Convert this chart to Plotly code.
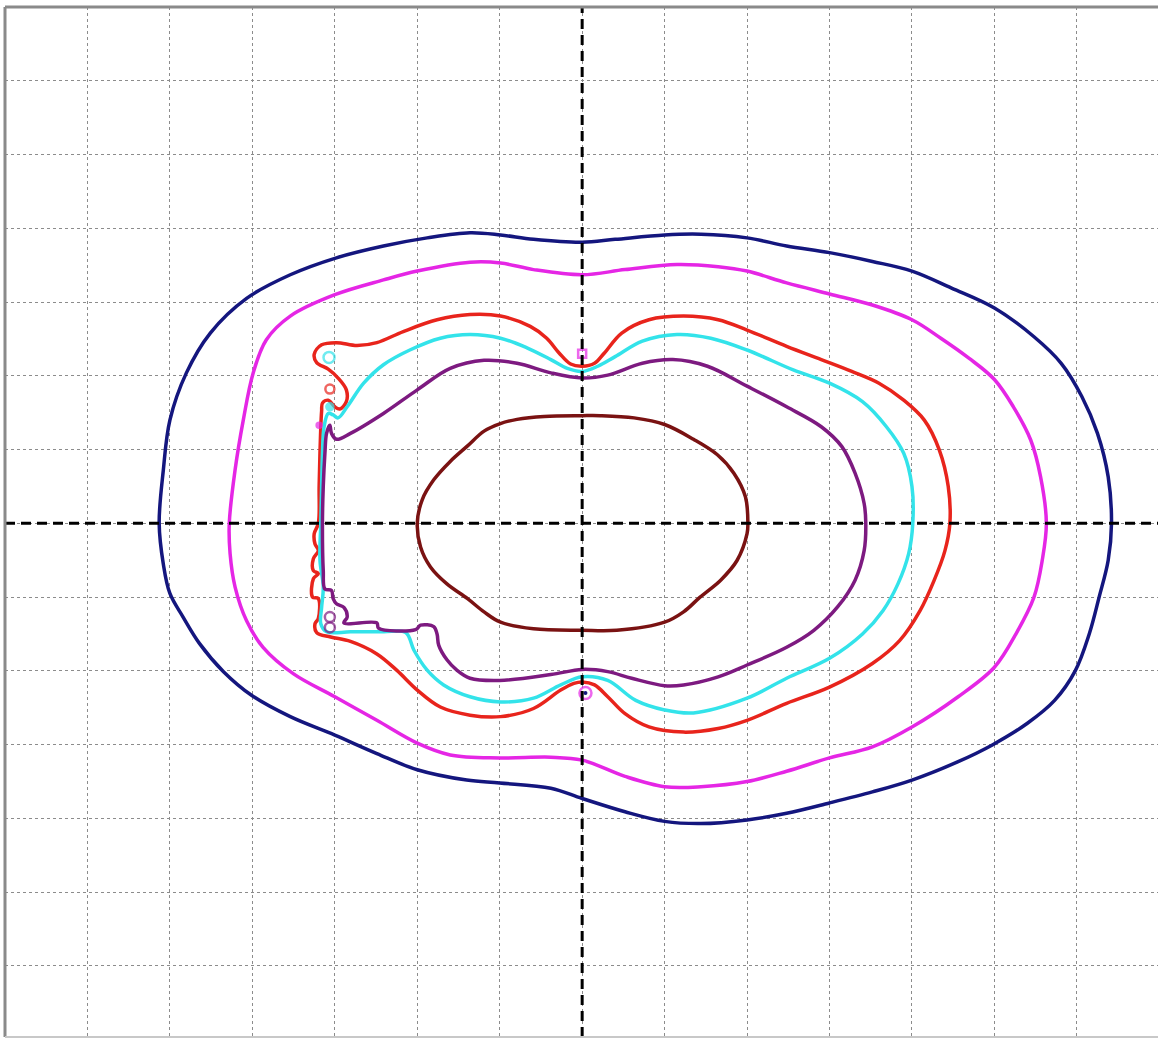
import plotly.graph_objects as go

# ---- contour data (grid units, centre = 0,0) ----
navy_x = [0, 0.40, 1.0, 1.44, 2.0, 2.48, 3.0, 3.52, 4.0, 4.48, 5.0, 5.48, 5.81, 6.06, 6.25, 6.38, 6.42,
          6.38, 6.27, 6.15, 5.98, 5.73, 5.40, 4.98, 4.56, 4.0, 3.52, 3.0, 2.48, 2.0, 1.44, 1.0, 0.52, 0,
          -0.38, -1.0, -1.40, -2.0, -2.49, -3.0, -3.54, -4.01, -4.35, -4.64, -4.84, -5.0, -5.08, -5.13,
          -5.08, -5.0, -4.80, -4.51, -4.07, -3.54, -2.98, -2.41, -1.88, -1.36, -0.99, -0.59, 0]
navy_y = [3.81, 3.85, 3.91, 3.92, 3.87, 3.76, 3.67, 3.55, 3.42, 3.19, 2.92, 2.53, 2.17, 1.72, 1.22, 0.63, 0,
          -0.50, -1.0, -1.50, -2.0, -2.40, -2.71, -3.0, -3.23, -3.48, -3.64, -3.79, -3.93, -4.02, -4.07, -4.04, -3.91, -3.73,
          -3.59, -3.52, -3.48, -3.34, -3.12, -2.87, -2.62, -2.33, -2.01, -1.63, -1.27, -0.95, -0.55, 0,
          0.72, 1.40, 2.04, 2.58, 3.05, 3.37, 3.60, 3.76, 3.87, 3.94, 3.91, 3.85, 3.81]

magenta_x = [0, 0.52, 1.15, 1.65, 2.0, 2.48, 3.0, 3.52, 4.0, 4.35, 4.69, 5.0, 5.23, 5.44, 5.56, 5.63,
             5.58, 5.48, 5.27, 5.0, 4.56, 4.0, 3.52, 3.0, 2.48, 2.0, 1.44, 1.0, 0.52, 0,
             -0.38, -1.0, -1.60, -2.0, -2.49, -3.0, -3.50, -3.87, -4.07, -4.21, -4.27, -4.28,
             -4.21, -4.11, -3.99, -3.83, -3.54, -3.0, -2.41, -2.0, -1.36, -0.99, -0.59, 0]
magenta_y = [3.37, 3.44, 3.51, 3.48, 3.42, 3.26, 3.11, 2.96, 2.76, 2.51, 2.24, 1.95, 1.58, 1.13, 0.63, 0,
             -0.50, -1.0, -1.48, -1.95, -2.35, -2.76, -3.03, -3.18, -3.36, -3.50, -3.57, -3.57, -3.43, -3.21,
             -3.17, -3.18, -3.14, -2.98, -2.67, -2.35, -2.04, -1.68, -1.32, -0.86, -0.41, 0,
             0.72, 1.40, 2.04, 2.49, 2.81, 3.10, 3.30, 3.42, 3.54, 3.53, 3.44, 3.37]

red_x = [0, -0.14, -0.28, -0.43, -0.63, -0.99, -1.36, -1.76, -2.17, -2.49, -2.73, -2.98, -3.16, -3.25,
         -3.22, -3.08, -2.96, -2.86, -2.86, -2.94, -3.00, -3.08, -3.15, -3.16, -3.17, -3.18, -3.19, -3.20,
         -3.25, -3.24, -3.20, -3.26, -3.26, -3.20, -3.26, -3.27, -3.20, -3.20, -3.24, -3.22, -3.05,
         -2.81, -2.49, -2.25, -2.0, -1.72, -1.36, -0.99, -0.59, -0.26, -0.10, 0,
         0.15, 0.31, 0.52, 0.81, 1.23, 1.65, 2.0, 2.48, 3.0, 3.52, 3.85, 4.10, 4.27, 4.40, 4.46,
         4.44, 4.33, 4.15, 3.90, 3.60, 3.27, 2.90, 2.48, 2.0, 1.65, 1.23, 0.81, 0.48, 0.27, 0.15, 0]
red_y = [2.13, 2.16, 2.31, 2.51, 2.67, 2.81, 2.83, 2.76, 2.60, 2.45, 2.41, 2.45, 2.42, 2.29,
         2.18, 2.09, 1.97, 1.81, 1.65, 1.55, 1.58, 1.67, 1.63, 1.52, 1.31, 0.95, 0.50, 0,
         -0.14, -0.28, -0.37, -0.48, -0.64, -0.68, -0.75, -1.00, -1.02, -1.29, -1.36, -1.48, -1.54,
         -1.60, -1.77, -1.99, -2.26, -2.49, -2.60, -2.62, -2.51, -2.26, -2.17, -2.15,
         -2.19, -2.35, -2.58, -2.76, -2.83, -2.78, -2.67, -2.44, -2.22, -1.90, -1.59, -1.18, -0.77, -0.37, 0,
         0.50, 1.0, 1.40, 1.67, 1.90, 2.06, 2.22, 2.40, 2.62, 2.76, 2.81, 2.76, 2.58, 2.31, 2.17, 2.13]

cyan_x = [0, -0.18, -0.38, -0.67, -0.99, -1.36, -1.72, -2.09, -2.41, -2.65, -2.85, -2.96, -3.02, -3.08,
          -3.13, -3.15, -3.16, -3.17, -3.18, -3.14, -3.16, -3.17, -3.10, -2.81, -2.41, -2.14, -2.04,
          -1.88, -1.68, -1.36, -0.99, -0.59, -0.26, 0,
          0.31, 0.65, 1.0, 1.35, 2.0, 2.48, 3.0, 3.40, 3.65, 3.83, 3.96, 4.01,
          4.0, 3.90, 3.69, 3.40, 3.0, 2.56, 2.0, 1.56, 1.15, 0.73, 0.40, 0.19, 0]
cyan_y = [2.06, 2.10, 2.22, 2.38, 2.51, 2.56, 2.51, 2.35, 2.15, 1.90, 1.58, 1.43, 1.47, 1.49,
          1.31, 0.95, 0.50, 0, -0.50, -0.86, -1.14, -1.36, -1.47, -1.47, -1.47, -1.48, -1.72,
          -1.99, -2.19, -2.35, -2.42, -2.37, -2.19, -2.08,
          -2.13, -2.40, -2.53, -2.57, -2.37, -2.10, -1.83, -1.50, -1.18, -0.82, -0.41, 0,
          0.50, 0.95, 1.31, 1.65, 1.90, 2.08, 2.35, 2.51, 2.56, 2.47, 2.26, 2.13, 2.06]

purple_x = [0, 0.31, 0.73, 1.10, 1.52, 2.0, 2.48, 2.90, 3.15, 3.31, 3.42, 3.44,
            3.42, 3.31, 3.10, 2.81, 2.48, 2.0, 1.65, 1.23, 1.0, 0.60, 0.31, 0,
            -0.38, -1.0, -1.36, -1.52, -1.64, -1.74, -1.76, -1.80, -1.96, -2.02, -2.47, -2.49, -2.89,
            -2.85, -2.89, -2.98, -3.02, -3.04, -3.12, -3.14, -3.15,
            -3.14, -3.12, -3.10, -3.06, -3.04, -2.98, -2.81, -2.41, -2.0, -1.60, -1.19, -0.79, -0.38, 0]
purple_y = [1.97, 2.01, 2.17, 2.22, 2.13, 1.86, 1.58, 1.31, 1.04, 0.68, 0.27, 0,
            -0.37, -0.77, -1.13, -1.45, -1.68, -1.92, -2.08, -2.19, -2.20, -2.10, -2.01, -1.98,
            -2.05, -2.13, -2.10, -1.99, -1.85, -1.65, -1.50, -1.40, -1.38, -1.44, -1.42, -1.35, -1.35,
            -1.27, -1.14, -1.09, -1.02, -0.91, -0.89, -0.64, 0,
            0.50, 0.95, 1.22, 1.33, 1.22, 1.14, 1.22, 1.49, 1.81, 2.10, 2.21, 2.17, 2.04, 1.97]

brown_x = [0, 0.22, 0.63, 1.0, 1.35, 1.64, 1.84, 1.98, 2.01, 2.0, 1.88, 1.68, 1.43, 1.23, 1.0, 0.42, 0,
           -0.59, -0.99, -1.19, -1.39, -1.64, -1.84, -1.96, -2.0, -1.94, -1.80, -1.60, -1.39, -1.19,
           -1.0, -0.79, -0.46, 0]
brown_y = [1.46, 1.46, 1.43, 1.34, 1.14, 0.93, 0.68, 0.36, 0, -0.14, -0.50, -0.77, -1.0, -1.20, -1.34, -1.45, -1.45,
           -1.43, -1.34, -1.20, -1.02, -0.82, -0.59, -0.32, 0, 0.32, 0.59, 0.84, 1.05, 1.25,
           1.35, 1.41, 1.45, 1.46]

# small isolated islands of the contours
blob_x = [-3.07, -3.06, -3.06, -3.06, -3.06, 0.0, 0.04, -3.19]
blob_y = [2.25, 1.82, 1.58, -1.27, -1.41, 2.30, -2.30, 1.33]
blob_color = ["#33e3ea", "#e8241c", "#33e3ea", "#7d1a80", "#7d1a80", "#e526e5", "#e526e5", "#e526e5"]
blob_symbol = ["circle-open", "circle-open", "circle", "circle-open", "circle-open",
               "square-open", "circle-open", "circle"]
blob_size = [11, 9, 7, 10, 10, 8, 12, 5]

curves = [
    ("navy", navy_x, navy_y, "#14167e"),
    ("magenta", magenta_x, magenta_y, "#e526e5"),
    ("red", red_x, red_y, "#e8241c"),
    ("cyan", cyan_x, cyan_y, "#33e3ea"),
    ("purple", purple_x, purple_y, "#7d1a80"),
    ("brown", brown_x, brown_y, "#7a1212"),
]

fig = go.Figure()
for name, xs, ys, col in curves:
    fig.add_trace(go.Scatter(x=xs, y=ys, mode="lines", name=name,
                             line=dict(color=col, width=3.5, shape="spline", smoothing=1.0),
                             hoverinfo="skip"))

fig.add_trace(go.Scatter(x=blob_x, y=blob_y, mode="markers",
                         marker=dict(color=blob_color, symbol=blob_symbol, size=blob_size,
                                     line=dict(color=blob_color, width=2.5)),
                         hoverinfo="skip"))
fig.add_trace(go.Scatter(x=[0.04], y=[-2.30], mode="markers",
                         marker=dict(color="#14167e", size=4), hoverinfo="skip"))

# centre cross-hair
fig.add_vline(x=0, line=dict(color="black", width=3, dash="10px,6px"))
fig.add_hline(y=0, line=dict(color="black", width=3, dash="10px,6px"))

# frame
fig.add_shape(type="line", xref="paper", yref="paper", x0=0, x1=0, y0=0, y1=1,
              line=dict(color="#8a8a8a", width=3))
fig.add_shape(type="line", xref="paper", yref="paper", x0=0, x1=1, y0=1, y1=1,
              line=dict(color="#8a8a8a", width=3))
fig.add_shape(type="line", xref="paper", yref="paper", x0=0, x1=1, y0=0, y1=0,
              line=dict(color="#c8c8c8", width=2))

axis_common = dict(showgrid=True, gridcolor="#8c8c8c", gridwidth=1, griddash="dot",
                   dtick=1, tick0=0, showticklabels=False, ticks="", zeroline=False,
                   showline=False, fixedrange=True)
fig.update_layout(
    width=1158, height=1039,
    margin=dict(l=5, r=0, t=7, b=2),
    paper_bgcolor="white", plot_bgcolor="white",
    showlegend=False,
    xaxis=dict(range=[-7, 6.984], **axis_common),
    yaxis=dict(range=[-6.963, 7.0], **axis_common),
)

fig.write_html("out.html", config={"displayModeBar": False},
               post_script="document.body.style.margin='0';document.body.style.overflow='hidden';")
